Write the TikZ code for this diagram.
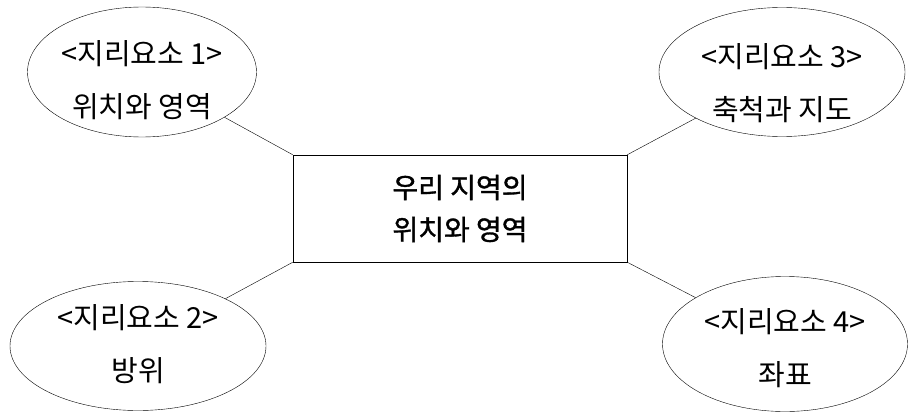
\documentclass[tikz,border=0pt]{standalone}
\usepackage{fontspec}
\usetikzlibrary{shapes.geometric}
\newfontfamily\kr{Noto Sans CJK KR}
\newfontfamily\krbold[FakeBold=1.2]{Noto Sans CJK KR}
\tikzset{
  elem/.style={draw, ellipse, inner sep=0pt},
  elemtext/.style={inner sep=0pt, align=center, font=\kr\fontsize{29}{53}\selectfont},
  topic/.style={draw, rectangle, inner sep=0pt, minimum width=334pt, minimum height=107pt, align=center, font=\krbold\fontsize{28}{44}\selectfont}
}
\begin{document}
\begin{tikzpicture}[x=1pt,y=-1pt]
    \useasboundingbox (0,0) rectangle (909,412);
    \node [topic] (box) at (460,208.5) {우리 지역의\\[-2pt]위치와 영역};
    % four elements round the topic
    \node [elem, minimum width=229pt, minimum height=130pt] (e1) at (142,72) {};
    \node [elem, minimum width=256pt, minimum height=129pt] (e2) at (138,346) {};
    \node [elem, minimum width=246pt, minimum height=129pt] (e3) at (782,72) {};
    \node [elem, minimum width=245pt, minimum height=135pt] (e4) at (785,344) {};
    \node [elemtext] (t1) at ([yshift=-8pt]e1.center) {<지리요소 1>\\위치와 영역};
    \node [elemtext] (t2) at ([yshift=2pt]e2.center) {<지리요소 2>\\방위};
    \node [elemtext] (t3) at ([yshift=-11pt]e3.center) {<지리요소 3>\\축척과 지도};
    \node [elemtext] (t4) at ([yshift=-4pt]e4.center) {<지리요소 4>\\좌표};
    \draw (e1) -- (box.north west);
    \draw (e2) -- (box.south west);
    \draw (e3) -- (box.north east);
    \draw (e4) -- (box.south east);
  \end{tikzpicture}
\end{document}
